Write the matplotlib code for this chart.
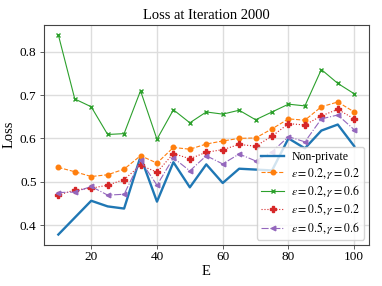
import numpy as np
import matplotlib
matplotlib.use("Agg")
from matplotlib import pyplot as plt

plt.rcParams['font.family'] = ['Liberation Serif', 'DejaVu Serif']
plt.rcParams['mathtext.fontset'] = 'stix'

epochs = np.arange(10, 101, 5)

non_private = [0.378, 0.417, 0.456, 0.443, 0.438, 0.558, 0.454, 0.545, 0.487, 0.540,
               0.497, 0.530, 0.528, 0.526, 0.600, 0.577, 0.618, 0.632, 0.582]
eps02_g02 = [0.533, 0.523, 0.512, 0.516, 0.529, 0.560, 0.543, 0.579, 0.575, 0.587,
             0.594, 0.600, 0.601, 0.622, 0.645, 0.642, 0.673, 0.684, 0.661]
eps02_g06 = [0.839, 0.691, 0.673, 0.609, 0.611, 0.710, 0.598, 0.666, 0.636, 0.661,
             0.656, 0.665, 0.643, 0.661, 0.679, 0.675, 0.759, 0.727, 0.703]
eps05_g02 = [0.469, 0.481, 0.485, 0.492, 0.505, 0.538, 0.522, 0.565, 0.553, 0.568,
             0.574, 0.586, 0.582, 0.605, 0.634, 0.631, 0.652, 0.667, 0.645]
eps05_g06 = [0.475, 0.476, 0.489, 0.469, 0.471, 0.549, 0.492, 0.555, 0.525, 0.560,
             0.541, 0.564, 0.548, 0.569, 0.604, 0.592, 0.645, 0.654, 0.620]

fig = plt.figure(figsize=(3.82, 2.86), dpi=100)
ax = fig.add_axes([0.114, 0.145, 0.852, 0.768])

ax.plot(epochs, non_private, color='#1f77b4', lw=1.7, label='Non-private')
ax.plot(epochs, eps02_g02, color='#ff7f0e', ls='--', lw=0.8, marker='o', ms=3.3,
        label=r'$\epsilon=0.2, \gamma=0.2$')
ax.plot(epochs, eps02_g06, color='#2ca02c', ls='-', lw=0.8, marker='x', ms=3.3,
        label=r'$\epsilon=0.2, \gamma=0.6$')
ax.plot(epochs, eps05_g02, color='#d62728', ls=':', lw=0.8, marker='P', ms=3.8,
        label=r'$\epsilon=0.5, \gamma=0.2$')
ax.plot(epochs, eps05_g06, color='#9467bd', ls='-.', lw=0.8, marker='<', ms=3.3,
        label=r'$\epsilon=0.5, \gamma=0.6$')

ax.set_title('Loss at Iteration 2000', fontsize=10.5, pad=4)
ax.set_xlabel('E', fontsize=10.5, labelpad=1)
ax.set_ylabel('Loss', fontsize=10.5, labelpad=3)
ax.set_xticks([20, 40, 60, 80, 100])
ax.set_yticks([0.4, 0.5, 0.6, 0.7, 0.8])
ax.tick_params(labelsize=9.5, length=3, width=0.6, color='#444444', pad=2)
ax.grid(True, color='#dddddd', lw=1)
ax.set_axisbelow(True)
for s in ax.spines.values():
    s.set_color('#444444')
    s.set_linewidth(0.8)

ax.legend(loc='lower right', fontsize=8.5, handlelength=2.0, labelspacing=0.2,
          borderpad=0.35, handletextpad=0.6, borderaxespad=0.4,
          framealpha=0.8, edgecolor='#cccccc')

plt.savefig('out.png')
